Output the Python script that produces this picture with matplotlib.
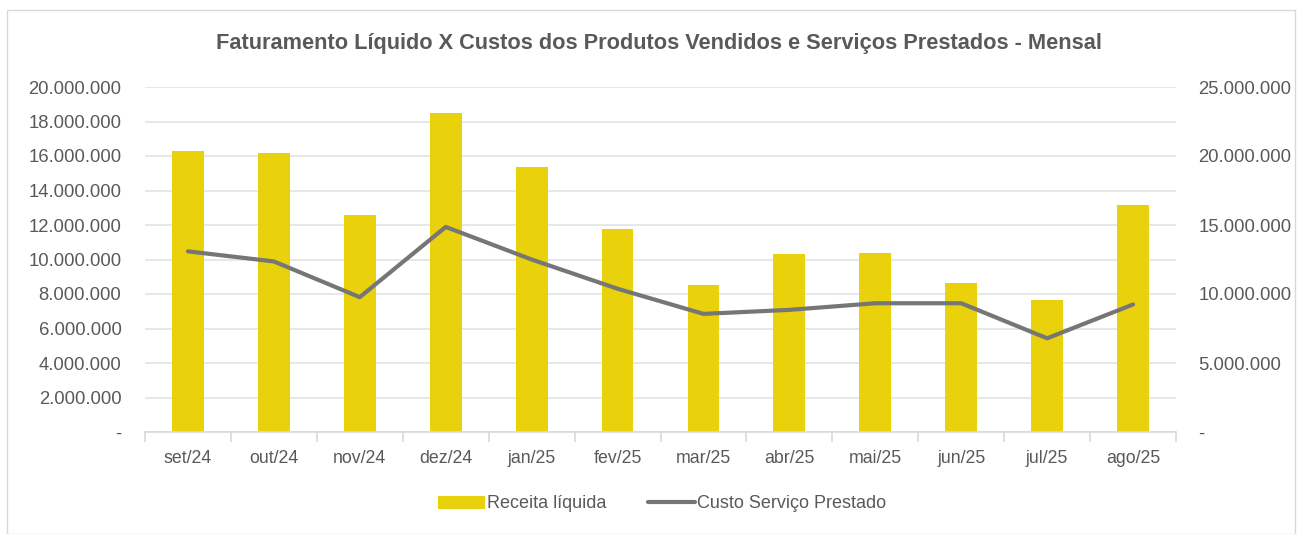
import matplotlib
matplotlib.use("Agg")
import matplotlib.pyplot as plt
from matplotlib.ticker import FuncFormatter, FixedLocator
from matplotlib.patches import Rectangle

categories = ["set/24", "out/24", "nov/24", "dez/24", "jan/25", "fev/25",
              "mar/25", "abr/25", "mai/25", "jun/25", "jul/25", "ago/25"]
receita = [16.31e6, 16.20e6, 12.57e6, 18.47e6, 15.35e6, 11.76e6,
           8.50e6, 10.30e6, 10.38e6, 8.61e6, 7.64e6, 13.15e6]
custo = [13.09e6, 12.36e6, 9.77e6, 14.86e6, 12.50e6, 10.38e6,
         8.56e6, 8.85e6, 9.33e6, 9.33e6, 6.79e6, 9.24e6]
left_ticks = [0, 2e6, 4e6, 6e6, 8e6, 10e6, 12e6, 14e6, 16e6, 18e6, 20e6]
right_ticks = [0, 5e6, 10e6, 15e6, 20e6, 25e6]

plt.rcParams['font.family'] = ['Liberation Sans', 'DejaVu Sans']
txt = '#595959'

fig = plt.figure(figsize=(13.01, 5.34), dpi=100)
fig.patches.append(Rectangle((7/1301, 0), 1288/1301, 524/534, transform=fig.transFigure,
                             fill=False, edgecolor='#d9d9d9', linewidth=1))
ax = fig.add_axes([145/1301, 1 - 432/534, 1031/1301, 345/534])
ax2 = ax.twinx()

x = list(range(len(categories)))
ax.bar(x, receita, width=0.37, color='#E9D20B', label='Receita líquida', zorder=2)
ax2.plot(x, custo, color='#767676', linewidth=3, label='Custo Serviço Prestado',
         solid_capstyle='round', zorder=3)

ax.set_xlim(-0.5, len(categories) - 0.5)
ax.set_ylim(0, 20e6)
ax2.set_ylim(0, 25e6)

def fmt(v, p):
    if v == 0:
        return '-'
    return f"{int(round(v)):,}".replace(',', '.')

ax.yaxis.set_major_locator(FixedLocator(left_ticks))
ax2.yaxis.set_major_locator(FixedLocator(right_ticks))
ax.yaxis.set_major_formatter(FuncFormatter(fmt))
ax2.yaxis.set_major_formatter(FuncFormatter(fmt))

ax.grid(axis='y', color='#e3e3e3', linewidth=1.2, zorder=0)
ax.set_axisbelow(True)
for a in (ax, ax2):
    for s in ['top', 'left', 'right', 'bottom']:
        a.spines[s].set_visible(False)
ax.spines['bottom'].set_visible(True)
ax.spines['bottom'].set_color('#d9d9d9')
ax.spines['bottom'].set_linewidth(1.2)

ax.set_xticks(x)
ax.set_xticklabels(categories)
ax.set_xticks([i - 0.5 for i in range(len(categories) + 1)], minor=True)
ax.tick_params(axis='x', which='major', length=0, pad=13, labelsize=12.8, labelcolor=txt)
ax.tick_params(axis='x', which='minor', length=7, color='#d9d9d9', width=1.2)
ax.tick_params(axis='y', length=0, pad=17, labelsize=13.3, labelcolor=txt)
ax2.tick_params(axis='y', length=0, pad=16, labelsize=13.3, labelcolor=txt)

fig.text(659/1301, 1 - 44/534, 'Faturamento Líquido X Custos dos Produtos Vendidos e Serviços Prestados - Mensal',
         ha='center', va='center', fontsize=15.7, fontweight='bold', color=txt)

h1, l1 = ax.get_legend_handles_labels()
h2, l2 = ax2.get_legend_handles_labels()
fig.legend(h1 + h2, l1 + l2, loc='center', bbox_to_anchor=(662/1301, 1 - 504/534),
           ncol=2, frameon=False, fontsize=13, labelcolor=txt, handlelength=2.6,
           handleheight=0.75, handletextpad=0.1, columnspacing=2.3)

fig.savefig('out.png', dpi=100)
